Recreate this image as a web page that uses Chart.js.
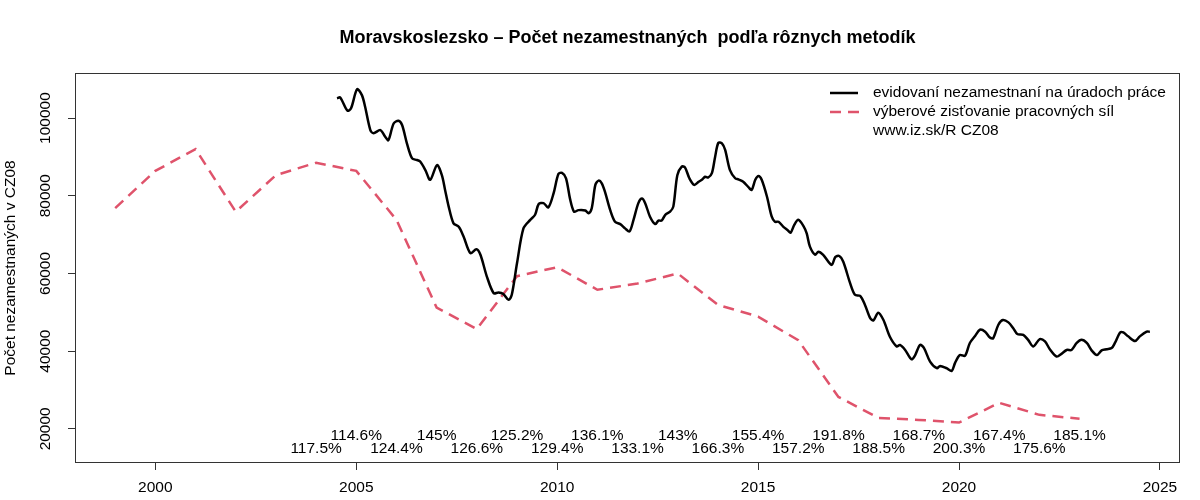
<!DOCTYPE html>
<html>
<head>
<meta charset="utf-8">
<script src="https://cdn.jsdelivr.net/npm/chart.js@4.4.1/dist/chart.umd.min.js"></script>
<style>
  body { margin: 0; background: #fff; }
  canvas { display: block; }
</style>
</head>
<body>
<canvas id="myChart" width="1200" height="500"></canvas>
<script>
// registered unemployed (monthly-ish)
const regYears = [
    2004.52, 2004.60, 2004.78, 2004.87, 2005.02, 2005.14, 2005.22, 2005.35, 2005.43, 2005.60,
    2005.72, 2005.80, 2005.93, 2006.05, 2006.14, 2006.26, 2006.39, 2006.51, 2006.59, 2006.72,
    2006.84, 2007.01, 2007.13, 2007.21, 2007.30, 2007.42, 2007.55, 2007.67, 2007.84, 2007.99,
    2008.09, 2008.25, 2008.42, 2008.54, 2008.66, 2008.79, 2008.87, 2009.00, 2009.16, 2009.33,
    2009.45, 2009.54, 2009.66, 2009.78, 2009.91, 2010.03, 2010.12, 2010.22, 2010.32, 2010.42,
    2010.53, 2010.70, 2010.78, 2010.86, 2010.95, 2011.03, 2011.11, 2011.19, 2011.32, 2011.44,
    2011.57, 2011.69, 2011.80, 2011.90, 2012.02, 2012.11, 2012.19, 2012.31, 2012.44, 2012.52,
    2012.60, 2012.69, 2012.81, 2012.89, 2012.99, 2013.10, 2013.18, 2013.29, 2013.41, 2013.52,
    2013.60, 2013.68, 2013.76, 2013.85, 2013.93, 2014.01, 2014.10, 2014.18, 2014.30, 2014.43,
    2014.51, 2014.63, 2014.76, 2014.84, 2014.93, 2015.01, 2015.09, 2015.22, 2015.34, 2015.42,
    2015.51, 2015.63, 2015.73, 2015.81, 2015.90, 2016.00, 2016.13, 2016.21, 2016.29, 2016.42,
    2016.50, 2016.62, 2016.83, 2016.92, 2017.02, 2017.12, 2017.29, 2017.41, 2017.54, 2017.66,
    2017.79, 2017.87, 2017.99, 2018.12, 2018.28, 2018.45, 2018.53, 2018.66, 2018.82, 2018.91,
    2019.03, 2019.13, 2019.28, 2019.45, 2019.53, 2019.69, 2019.82, 2019.90, 2020.02, 2020.15,
    2020.27, 2020.40, 2020.52, 2020.65, 2020.77, 2020.85, 2020.98, 2021.09, 2021.23, 2021.35,
    2021.45, 2021.60, 2021.72, 2021.85, 2022.01, 2022.14, 2022.26, 2022.43, 2022.55, 2022.68,
    2022.80, 2022.93, 2023.05, 2023.18, 2023.30, 2023.43, 2023.55, 2023.67, 2023.80, 2023.88,
    2024.01, 2024.09, 2024.21, 2024.38, 2024.50, 2024.67, 2024.75
];
const regValues = [
    105100, 105300, 101900, 102500, 107400, 105900, 102900, 96900, 96100, 96900,
    95200, 94300, 98600, 99300, 98200, 93500, 89600, 89200, 88800, 86600,
    84100, 87900, 85300, 81500, 77200, 72900, 72000, 69500, 65200, 66200,
    64800, 59200, 54900, 55100, 54700, 53200, 54500, 62600, 71600, 73800,
    75100, 77900, 78100, 77000, 80600, 85600, 85900, 84500, 79200, 75900,
    76300, 76200, 75500, 76800, 82800, 83900, 83200, 81000, 76300, 73300,
    72700, 71600, 70800, 73800, 78100, 79300, 78100, 74600, 72700, 73600,
    73600, 75100, 75900, 77200, 85300, 87500, 87300, 84500, 82800, 83600,
    84100, 84900, 84700, 85800, 90000, 93600, 93500, 91800, 86600, 84500,
    84200, 83600, 82200, 81500, 84100, 85100, 84100, 79800, 74600, 73300,
    73300, 72000, 71200, 70500, 72500, 73800, 72200, 70300, 66900, 64800,
    65600, 64800, 62200, 64200, 64500, 63000, 57500, 54500, 54200, 51900,
    48500, 47900, 49900, 48000, 43700, 41200, 41600, 40300, 37900, 39000,
    41600, 40800, 37300, 35600, 36200, 35600, 34900, 36900, 39000, 38800,
    42100, 43900, 45500, 45000, 43500, 43300, 46800, 48000, 47400, 45900,
    44400, 44200, 42900, 41200, 43100, 42500, 40500, 38600, 39300, 40300,
    40300, 42100, 42900, 42100, 40200, 39000, 40200, 40500, 40800, 42100,
    44800, 44800, 43800, 42600, 43800, 45000, 45000
];

// labour force survey, yearly
const lfsYears = [1999, 2000, 2001, 2002, 2003, 2004, 2005, 2006, 2007, 2008, 2009, 2010, 2011,
    2012, 2013, 2014, 2015, 2016, 2017, 2018, 2019, 2020, 2021, 2022, 2023];
const lfsValues = [76800, 86400, 92000, 75900, 85300, 88500, 86400, 73800, 51200, 45700, 59300, 61600, 55800,
    57400, 60000, 51900, 48900, 42800, 28200, 22800, 22300, 21600, 26700, 23600, 22600];

// ratio labels along the bottom
const ratioYearsUpper = [2005, 2007, 2009, 2011, 2013, 2015, 2017, 2019, 2021, 2023];
const ratioLabelsUpper = ['114.6%', '145%', '125.2%', '136.1%', '143%', '155.4%', '191.8%', '168.7%', '167.4%', '185.1%'];
const ratioYearsLower = [2004, 2006, 2008, 2010, 2012, 2014, 2016, 2018, 2020, 2022];
const ratioLabelsLower = ['117.5%', '124.4%', '126.6%', '129.4%', '133.1%', '166.3%', '157.2%', '188.5%', '200.3%', '175.6%'];
const ratioLevelUpper = 18200;
const ratioLevelLower = 14900;

const xTicks = [2000, 2005, 2010, 2015, 2020, 2025];
const yTicks = [20000, 40000, 60000, 80000, 100000];

const titleText = 'Moravskoslezsko \u2013 Počet nezamestnaných  podľa rôznych metodík';
const yTitle = 'Počet nezamestnaných v CZ08';
const legendLabels = ['evidovaní nezamestnaní na úradoch práce', 'výberové zisťovanie pracovných síl', 'www.iz.sk/R CZ08'];

const FONT = '"Liberation Sans", Arial, sans-serif';
const RED = '#DF536B';

const regData = regYears.map((yr, i) => ({ x: yr, y: regValues[i] }));
const lfsData = lfsYears.map((yr, i) => ({ x: yr, y: lfsValues[i] }));

const extras = {
    id: 'extras',
    afterDraw(chart) {
        const { ctx, chartArea: a, scales: { x, y } } = chart;
        ctx.save();

        // box
        ctx.strokeStyle = '#333';
        ctx.lineWidth = 1;
        ctx.strokeRect(a.left + 0.5, a.top + 0.5, a.right - a.left - 1, a.bottom - a.top - 1);

        // title
        ctx.fillStyle = '#000';
        ctx.font = 'bold 18px ' + FONT;
        ctx.textAlign = 'center';
        ctx.textBaseline = 'middle';
        ctx.fillText(titleText, (a.left + a.right) / 2, 38);

        // y tick labels, rotated like R
        ctx.font = '15.5px ' + FONT;
        for (const v of yTicks) {
            ctx.save();
            ctx.translate(46, y.getPixelForValue(v));
            ctx.rotate(-Math.PI / 2);
            ctx.fillText(String(v), 0, 0);
            ctx.restore();
        }

        // y title
        ctx.save();
        ctx.translate(11, (a.top + a.bottom) / 2);
        ctx.rotate(-Math.PI / 2);
        ctx.fillText(yTitle, 0, 0);
        ctx.restore();

        // ratios
        ratioYearsUpper.forEach((yr, i) => {
            ctx.fillText(ratioLabelsUpper[i], x.getPixelForValue(yr), y.getPixelForValue(ratioLevelUpper));
        });
        ratioYearsLower.forEach((yr, i) => {
            ctx.fillText(ratioLabelsLower[i], x.getPixelForValue(yr), y.getPixelForValue(ratioLevelLower));
        });

        // legend
        const lx = 830, ly = 93, step = 19;
        ctx.lineWidth = 2.5;
        ctx.strokeStyle = '#000';
        ctx.beginPath();
        ctx.moveTo(lx, ly);
        ctx.lineTo(lx + 28, ly);
        ctx.stroke();
        ctx.strokeStyle = RED;
        ctx.setLineDash([11, 7]);
        ctx.beginPath();
        ctx.moveTo(lx, ly + step);
        ctx.lineTo(lx + 30, ly + step);
        ctx.stroke();
        ctx.setLineDash([]);
        ctx.textAlign = 'left';
        ctx.fillStyle = '#000';
        legendLabels.forEach((t, i) => ctx.fillText(t, lx + 43, ly + i * step));

        ctx.restore();
    }
};

const ctx = document.getElementById('myChart').getContext('2d');

const myChart = new Chart(ctx, { // eslint-disable-line
    type: 'line',
    data: {
        datasets: [{
            label: legendLabels[0],
            data: regData,
            borderColor: '#000',
            borderWidth: 2.5,
            pointRadius: 0,
            tension: 0.3,
            fill: false
        },
        {
            label: legendLabels[1],
            data: lfsData,
            borderColor: RED,
            borderWidth: 2.5,
            borderDash: [11, 7],
            pointRadius: 0,
            tension: 0,
            fill: false
        }]
    },
    options: {
        responsive: false,
        animation: false,
        layout: { padding: { top: 73, right: 20, left: 0, bottom: 0 } },
        plugins: {
            legend: { display: false },
            tooltip: { enabled: false },
            title: { display: false }
        },
        scales: {
            x: {
                type: 'linear',
                min: 1998.0,
                max: 2025.5,
                afterBuildTicks: (scale) => { scale.ticks = xTicks.map(v => ({ value: v })); },
                afterFit: (scale) => { scale.height = 37; },
                grid: { drawOnChartArea: false, drawTicks: true, tickLength: 7, color: '#333' },
                border: { display: false },
                ticks: {
                    color: '#000',
                    font: { family: FONT, size: 15.5 },
                    padding: 8,
                    maxRotation: 0,
                    callback: (v) => String(v)
                }
            },
            y: {
                type: 'linear',
                min: 11200,
                max: 111600,
                afterBuildTicks: (scale) => { scale.ticks = yTicks.map(v => ({ value: v })); },
                afterFit: (scale) => { scale.width = 75; },
                grid: { drawOnChartArea: false, drawTicks: true, tickLength: 7, color: '#333' },
                border: { display: false },
                ticks: { display: false }
            }
        }
    },
    plugins: [extras]
});
</script>
</body>
</html>
